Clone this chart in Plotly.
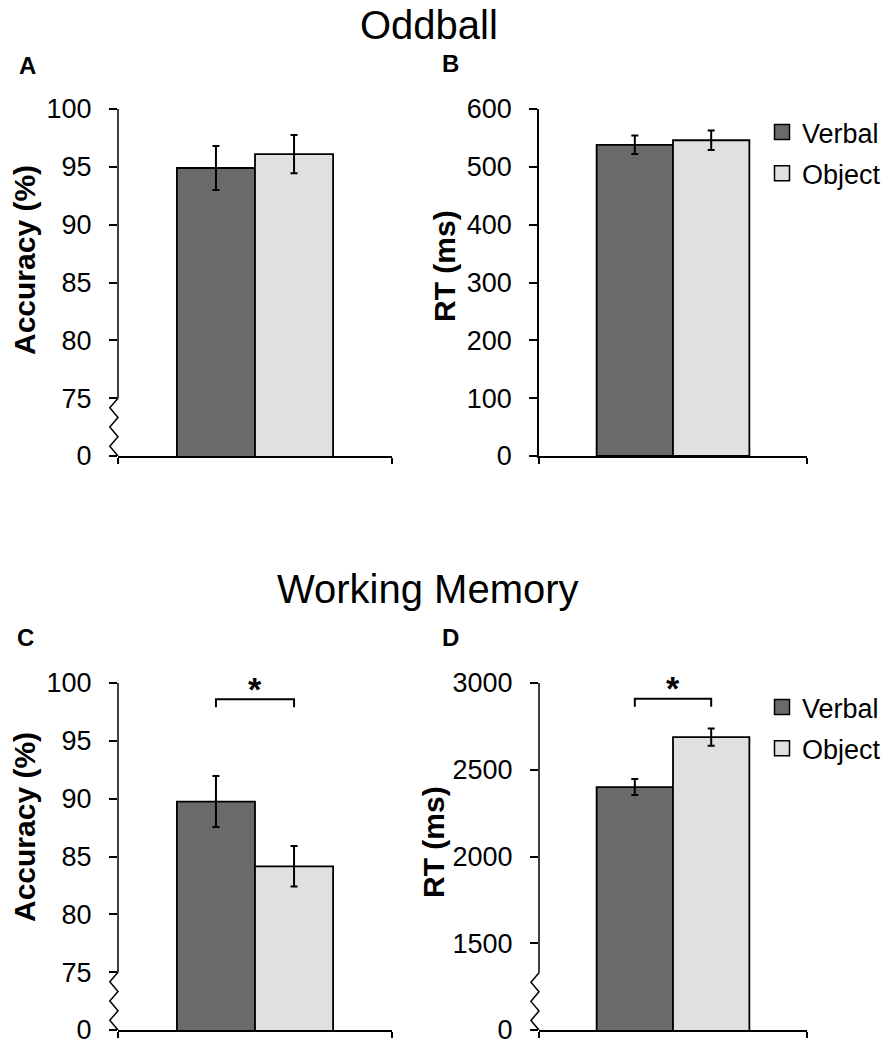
import plotly.graph_objects as go

W, H = 892, 1052
FONT = "Liberation Sans, Arial, sans-serif"

conditions = ["Verbal", "Object"]
bar_colors = ["#6a6a6a", "#e0e0e0"]

# Oddball task
odd_acc = [94.9, 96.1]
odd_acc_err = [1.9, 1.65]
odd_rt = [538, 546]
odd_rt_err = [16, 17]

# Working memory task
wm_acc = [89.75, 84.15]
wm_acc_err = [2.2, 1.75]
wm_rt = [2400, 2688]
wm_rt_err = [46, 50]

acc_ticks = [70, 75, 80, 85, 90, 95, 100]
acc_ticktext = ["0", "75", "80", "85", "90", "95", "100"]
odd_rt_ticks = [0, 100, 200, 300, 400, 500, 600]
wm_rt_ticks = [1000, 1500, 2000, 2500, 3000]
wm_rt_ticktext = ["0", "1500", "2000", "2500", "3000"]


def px_x(p):
    return p / W


def px_y(p):
    return 1 - p / H


# panel: axis suffix, values, errors, y range, ticks, tick text, x domain px, y domain px,
# y break top (None = no break), axis title, title pos px, panel label, label pos px, legend
panels = [
    dict(n="", vals=odd_acc, errs=odd_acc_err, yr=[70, 100], tv=acc_ticks, tt=acc_ticktext,
         xd=(118, 392), yd=(109, 456), brk=75, title="Accuracy (%)", tpos=(24, 260),
         label="A", lpos=(27, 65), legend=None),
    dict(n="2", vals=odd_rt, errs=odd_rt_err, yr=[0, 600], tv=odd_rt_ticks,
         tt=[str(v) for v in odd_rt_ticks], xd=(539, 807), yd=(109, 456), brk=None,
         title="RT (ms)", tpos=(444, 266), label="B", lpos=(451, 64), legend="legend"),
    dict(n="3", vals=wm_acc, errs=wm_acc_err, yr=[70, 100], tv=acc_ticks, tt=acc_ticktext,
         xd=(118, 392), yd=(683, 1030), brk=75, title="Accuracy (%)", tpos=(24, 827),
         label="C", lpos=(25, 637), legend=None),
    dict(n="4", vals=wm_rt, errs=wm_rt_err, yr=[1000, 3000], tv=wm_rt_ticks, tt=wm_rt_ticktext,
         xd=(539, 807), yd=(683, 1030), brk=1330, title="RT (ms)", tpos=(433, 842),
         label="D", lpos=(451, 637), legend="legend2"),
]

# significance brackets: panel index -> (bracket top, leg bottom)
sig = {2: (98.6, 97.9), 3: (2909, 2863)}

BW = 0.285
fig = go.Figure()
shapes = []
annotations = []

for k, p in enumerate(panels):
    xa, ya = "x" + p["n"], "y" + p["n"]
    for i, cond in enumerate(conditions):
        fig.add_trace(go.Bar(
            x=[0], y=[p["vals"][i]], width=BW, offset=-BW if i == 0 else 0,
            name=cond, xaxis=xa, yaxis=ya,
            marker=dict(color=bar_colors[i], line=dict(color="black", width=1.8)),
            error_y=dict(type="data", array=[p["errs"][i]], color="black",
                         thickness=2, width=3.5),
            showlegend=False,
        ))
        if p["legend"]:
            # legend-only entry so the key squares can be sized like the original
            fig.add_trace(go.Scatter(
                x=[None], y=[None], mode="markers", name=cond, xaxis=xa, yaxis=ya,
                marker=dict(symbol="square", size=15, color=bar_colors[i],
                            line=dict(color="black", width=1.5)),
                legend=p["legend"], legendgroup=cond + p["n"],
            ))

    fig.update_layout({
        "xaxis" + p["n"]: dict(
            domain=[px_x(p["xd"][0]), px_x(p["xd"][1])], range=[-0.5, 0.5],
            anchor=ya, showline=True, linecolor="black", linewidth=1.5,
            tickvals=[-0.5, 0.5], ticks="outside", ticklen=6, tickwidth=1.5,
            tickcolor="black", showticklabels=False, showgrid=False, zeroline=False,
            fixedrange=True, automargin=False,
        ),
        "yaxis" + p["n"]: dict(
            domain=[px_y(p["yd"][1]), px_y(p["yd"][0])], range=p["yr"], anchor=xa,
            showline=p["brk"] is None, linecolor="black", linewidth=1.5,
            tickvals=p["tv"], ticktext=p["tt"], ticks="outside", ticklen=8,
            tickwidth=1.5, tickcolor="black", ticklabelstandoff=12,
            tickfont=dict(size=27, color="black", family=FONT),
            showgrid=False, zeroline=False, fixedrange=True, automargin=False,
        ),
    })

    if p["brk"] is not None:
        lo, top = p["yr"][0], p["yr"][1]
        shapes.append(dict(type="line", xref=xa + " domain", yref=ya, x0=0, x1=0,
                           y0=p["brk"], y1=top, line=dict(color="black", width=1.5)))
        # zigzag break mark between the break and the axis origin
        nseg = 6
        step = (p["brk"] - lo) / nseg
        pts = []
        for j in range(nseg + 1):
            xx = 0 if j % 2 == 0 else -0.03
            pts.append(f"{xx},{p['brk'] - j * step}")
        shapes.append(dict(type="path", xref=xa + " domain", yref=ya,
                           path="M" + " L".join(pts), line=dict(color="black", width=1.5)))

    if k in sig:
        top, leg = sig[k]
        c0, c1 = -BW / 2, BW / 2
        shapes.append(dict(type="path", xref=xa, yref=ya,
                           path=f"M{c0},{leg} L{c0},{top} L{c1},{top} L{c1},{leg}",
                           line=dict(color="black", width=2)))
        span = p["yr"][1] - p["yr"][0]
        annotations.append(dict(text="<b>*</b>", xref=xa, yref=ya, x=0,
                                y=top + span * 0.03, showarrow=False, yanchor="middle",
                                font=dict(size=34, color="black", family=FONT)))

    annotations.append(dict(text="<b>" + p["title"] + "</b>", xref="paper", yref="paper",
                            x=px_x(p["tpos"][0]), y=px_y(p["tpos"][1]), textangle=-90,
                            showarrow=False, xanchor="center", yanchor="middle",
                            font=dict(size=30, color="black", family=FONT)))
    annotations.append(dict(text="<b>" + p["label"] + "</b>", xref="paper", yref="paper",
                            x=px_x(p["lpos"][0]), y=px_y(p["lpos"][1]), showarrow=False,
                            xanchor="center", yanchor="middle",
                            font=dict(size=24, color="black", family=FONT)))

for txt, cx, cy in [("Oddball", 429, 25), ("Working Memory", 428, 589)]:
    annotations.append(dict(text=txt, xref="paper", yref="paper", x=px_x(cx), y=px_y(cy),
                            showarrow=False, xanchor="center", yanchor="middle",
                            font=dict(size=40, color="black", family=FONT)))

legend_style = dict(font=dict(size=27, color="black", family=FONT), bgcolor="rgba(0,0,0,0)",
                    xanchor="left", yanchor="top", traceorder="grouped", tracegroupgap=3,
                    itemclick=False, itemdoubleclick=False)

fig.update_layout(
    width=W, height=H,
    margin=dict(l=0, r=0, t=0, b=0, autoexpand=False),
    paper_bgcolor="white", plot_bgcolor="white",
    font=dict(family=FONT, color="black"),
    barmode="overlay",
    shapes=shapes,
    annotations=annotations,
    legend=dict(x=px_x(762), y=px_y(108), **legend_style),
    legend2=dict(x=px_x(762), y=px_y(683), **legend_style),
)

# the page's default body margin would shift the figure by 8px
fig.write_html("out.html", config={"displayModeBar": False},
               post_script="document.body.style.margin='0';")
